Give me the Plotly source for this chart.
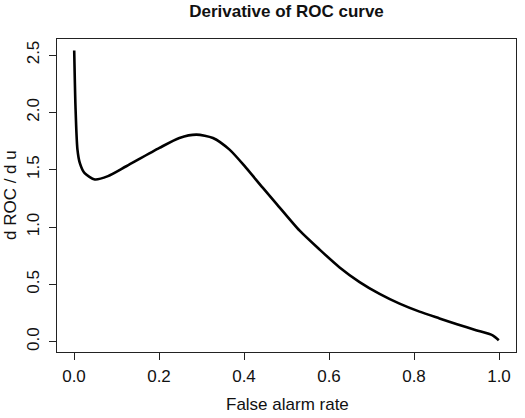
import plotly.graph_objects as go

false_alarm = [0.0005, 0.0035, 0.008, 0.0136, 0.025, 0.049, 0.080, 0.123, 0.201, 0.248,
               0.288, 0.327, 0.366, 0.405, 0.444, 0.476, 0.531, 0.578, 0.625, 0.672,
               0.719, 0.766, 0.813, 0.860, 0.903, 0.946, 0.985, 0.9995]
droc_du = [2.54, 2.05, 1.68, 1.56, 1.47, 1.415, 1.444, 1.53, 1.69, 1.777,
           1.806, 1.777, 1.675, 1.516, 1.343, 1.205, 0.968, 0.803, 0.648, 0.520,
           0.417, 0.332, 0.262, 0.203, 0.150, 0.100, 0.055, 0.012]

x_ticks = [0.0, 0.2, 0.4, 0.6, 0.8, 1.0]
x_labels = ["0.0", "0.2", "0.4", "0.6", "0.8", "1.0"]
y_ticks = [0.0, 0.5, 1.0, 1.5, 2.0, 2.5]
y_labels = ["0.0", "0.5", "1.0", "1.5", "2.0", "2.5"]

FONT = "Liberation Sans, Arial, sans-serif"
W, H = 525, 418
L, R, T, B = 57, 9, 39, 66
pw, ph = W - L - R, H - T - B

fig = go.Figure()
fig.add_trace(go.Scatter(x=false_alarm, y=droc_du, mode="lines",
                         line=dict(color="black", width=2.6, shape="spline", smoothing=0.7),
                         showlegend=False))

fig.update_layout(
    width=W, height=H,
    margin=dict(l=L, r=R, t=T, b=B),
    paper_bgcolor="white", plot_bgcolor="white",
    font=dict(family=FONT, size=17, color="#111111"),
    title=dict(text="<b>Derivative of ROC curve</b>", x=0.5, xref="paper",
               y=1 - 11 / H, yref="container", yanchor="middle", xanchor="center",
               font=dict(family=FONT, size=17, color="#111111")),
    xaxis=dict(range=[-0.04, 1.04], tickvals=x_ticks, ticktext=x_labels,
               showgrid=False, zeroline=False, showline=True, mirror=True,
               linecolor="#222222", linewidth=1, ticks="outside", ticklen=7,
               tickcolor="#222222", tickwidth=1, automargin=False,
               ticklabelstandoff=2,
               tickfont=dict(family=FONT, size=17)),
    yaxis=dict(range=[-0.09, 2.64], tickvals=y_ticks, ticktext=y_labels,
               tickangle=-90, automargin=False,
               showgrid=False, zeroline=False, showline=True, mirror=True,
               linecolor="#222222", linewidth=1, ticks="outside", ticklen=7,
               tickcolor="#222222", tickwidth=1, ticklabelstandoff=3,
               tickfont=dict(family=FONT, size=17)),
    annotations=[
        dict(text="False alarm rate", xref="paper", yref="paper",
             x=(287 - L) / pw, y=(T + ph - 404) / ph, xanchor="center", yanchor="middle",
             showarrow=False, font=dict(family=FONT, size=17, color="#111111")),
        dict(text="d ROC / d u", xref="paper", yref="paper", textangle=-90,
             x=(10 - L) / pw, y=(T + ph - 195) / ph, xanchor="center", yanchor="middle",
             showarrow=False, font=dict(family=FONT, size=17, color="#111111")),
    ],
)

fig.write_html("out.html")
